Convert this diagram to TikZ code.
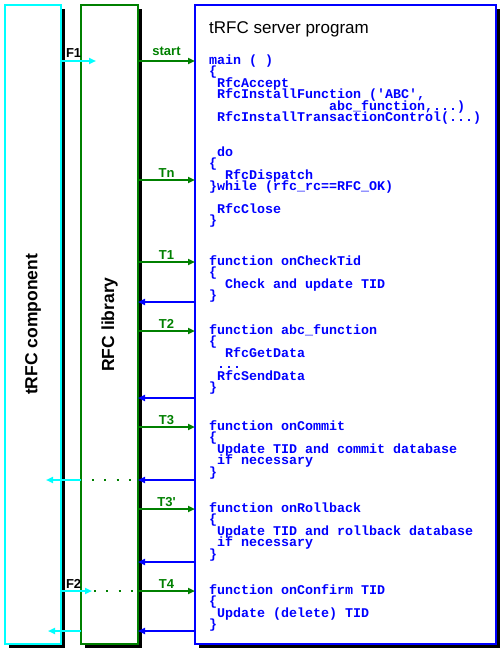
\documentclass[tikz,border=0pt]{standalone}
\usepackage{fontspec}
\setsansfont{Liberation Sans}
\setmonofont{Liberation Mono}
\usepackage{graphicx}
\usetikzlibrary{arrows.meta, positioning, shadows}
\definecolor{libgreen}{RGB}{0,128,0}
\definecolor{compcyan}{RGB}{0,255,255}
\definecolor{srvblue}{RGB}{0,0,255}
\newlength{\codecw}\setlength{\codecw}{8pt}
\newcommand{\codeind}[1]{\hspace*{#1\codecw}}
\newcommand{\codedots}{...}
\newcommand{\codefont}{\ttfamily\bfseries\fontsize{13.33}{11.45}\selectfont}

\begin{document}
\begin{tikzpicture}[x=1pt, y=-1pt, >={Triangle[length=7pt, width=6pt]},
		box/.style={draw=#1, line width=2pt, fill=white, outer sep=0pt, inner sep=0pt,
			minimum height=639pt,
			drop shadow={shadow xshift=4pt, shadow yshift=-4pt, fill=black, opacity=1}},
		boxtitle/.style={font=\sffamily\bfseries\fontsize{17.5}{21}\selectfont},
		code/.style={anchor=base west, inner sep=0pt, text=srvblue, font=\codefont},
		call/.style={->, libgreen, line width=2pt},
		ret/.style={->, srvblue, line width=2pt},
		fcall/.style={->, compcyan, line width=2pt},
		dots/.style={libgreen, line width=2pt, dash pattern=on 2pt off 10.3pt},
		tlabel/.style={midway, anchor=base, inner sep=0pt, font=\sffamily\bfseries\fontsize{13}{15}\selectfont},
		flabel/.style={pos=0, anchor=base west, inner sep=0pt, xshift=4pt, yshift=3pt, text=black,
			font=\sffamily\bfseries\fontsize{13}{15}\selectfont}]
	\useasboundingbox (0,0) rectangle (501,650);

	\node[box=compcyan, minimum width=56pt, boxtitle] (comp) at (33,324.5) {\rotatebox{90}{tRFC component}};
	\node[box=libgreen, minimum width=57pt, boxtitle, right=20pt of comp] (lib) {\rotatebox{90}{RFC library}};
	\node[box=srvblue, minimum width=301pt, right=57pt of lib] (srv) {};
	\node[anchor=base west, inner sep=0pt, font=\sffamily\fontsize{17}{20}\selectfont] (srvtitle) at (209,34) {tRFC server program};

	% code of the server program, one node per line
	\foreach \i/\txt in {0/main ( ), 1/\{, 2/\codeind{1}RfcAccept,
		{3/\codeind{1}RfcInstallFunction (\textquotesingle ABC\textquotesingle,},
		{4/\codeind{15}abc\_function,\codedots)}, 5/\codeind{1}RfcInstallTransactionControl(\codedots),
		8/\codeind{1}do, 9/\{, 10/\codeind{2}RfcDispatch, 11/\}while (rfc\_rc==RFC\_OK),
		13/\codeind{1}RfcClose, 14/\}}
		\node[code] (main\i) at (209,64.5+11.45*\i) {\txt};
	\foreach \i/\txt in {0/function onCheckTid, 1/\{, 2/\codeind{2}Check and update TID, 3/\}}
		\node[code] (check\i) at (209,265.5+11.45*\i) {\txt};
	\foreach \i/\txt in {0/function abc\_function, 1/\{, 2/\codeind{2}RfcGetData,
		3/\codeind{1}\codedots, 4/\codeind{1}RfcSendData, 5/\}}
		\node[code] (abc\i) at (209,334.5+11.45*\i) {\txt};
	\foreach \i/\txt in {0/function onCommit, 1/\{, 2/\codeind{1}Update TID and commit database,
		3/\codeind{1}if necessary, 4/\}}
		\node[code] (commit\i) at (209,430.5+11.45*\i) {\txt};
	\foreach \i/\txt in {0/function onRollback, 1/\{, 2/\codeind{1}Update TID and rollback database,
		3/\codeind{1}if necessary, 4/\}}
		\node[code] (roll\i) at (209,512.5+11.45*\i) {\txt};
	\foreach \i/\txt in {0/function onConfirm TID, 1/\{, 2/\codeind{1}Update (delete) TID, 3/\}}
		\node[code] (confirm\i) at (209,594.5+11.45*\i) {\txt};

	% rows of the calls
	\foreach \name/\y in {rstart/61, rn/180, r1/262, b1/302, r2/331, b2/398,
		r3/427, b3/480, r3p/509, b3p/562, r4/591, b4/631}
		\coordinate (\name) at (0,\y);
	\coordinate (f1end) at (96,61);
	\coordinate (f2end) at (92,591);
	\coordinate (back3) at (46,480);
	\coordinate (back4) at (48,631);

	\foreach \row/\lab/\up in {rstart/start/5, rn/Tn/3, r1/T1/3, r2/T2/3, r3/T3/3,
		r3p/T3\textquotesingle/3, r4/T4/3}
		\draw[call] (lib.east |- \row) -- node[tlabel, yshift=\up pt] {\lab} (srv.west |- \row);
	\foreach \row in {b1, b2, b3, b3p, b4}
		\draw[ret] (srv.west |- \row) -- (lib.east |- \row);

	\draw[dots] ([xshift=11pt]lib.west |- b3) -- (lib.east |- b3);
	\draw[dots] ([xshift=13pt]lib.west |- r4) -- (lib.east |- r4);
	\draw[fcall] (comp.east |- rstart) -- node[flabel] {F1} (f1end);
	\draw[fcall] (comp.east |- r4) -- node[flabel] {F2} (f2end);
	\draw[fcall] (lib.west |- b3) -- (back3);
	\draw[fcall] (lib.west |- b4) -- (back4);
\end{tikzpicture}
\end{document}
